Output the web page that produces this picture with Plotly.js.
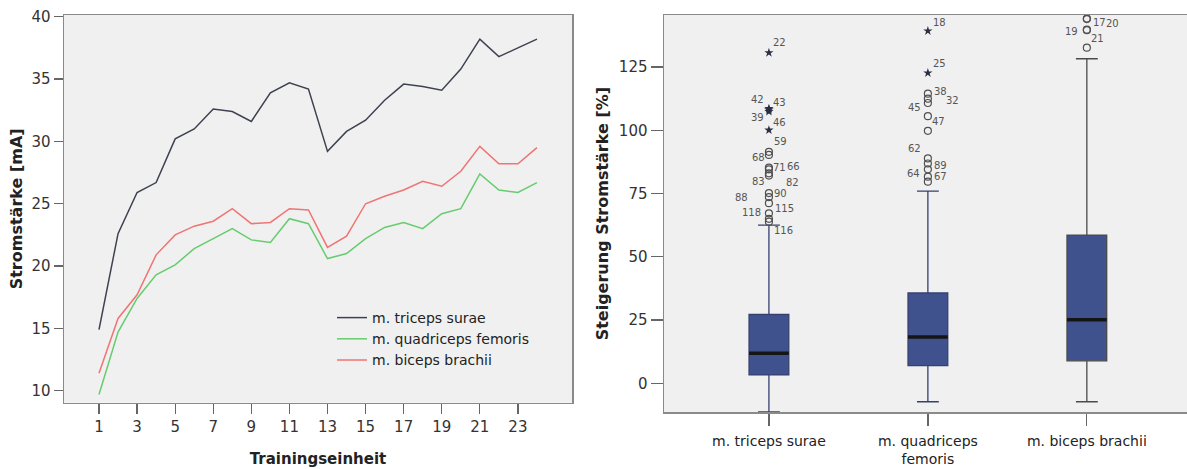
<!DOCTYPE html>
<html>
<head>
<meta charset="utf-8">
<script src="https://cdn.plot.ly/plotly-3.0.1.min.js"></script>
<style>
html,body{margin:0;padding:0;background:#fff;}
#chart{width:1187px;height:469px;}
</style>
</head>
<body>
<div id="chart"></div>
<script>
// ---------- Left chart data ----------
const sessions = [1,2,3,4,5,6,7,8,9,10,11,12,13,14,15,16,17,18,19,20,21,22,23,24];
const sessionTicks = [1,3,5,7,9,11,13,15,17,19,21,23];
const tricepsSurae = [14.9,22.6,25.9,26.7,30.2,31.0,32.6,32.4,31.6,33.9,34.7,34.2,29.2,30.8,31.7,33.3,34.6,34.4,34.1,35.8,38.2,36.8,37.5,38.2];
const quadricepsFemoris = [9.7,14.7,17.4,19.3,20.1,21.4,22.2,23.0,22.1,21.9,23.8,23.4,20.6,21.0,22.2,23.1,23.5,23.0,24.2,24.6,27.4,26.1,25.9,26.7];
const bicepsBrachii = [11.4,15.8,17.7,20.9,22.5,23.2,23.6,24.6,23.4,23.5,24.6,24.5,21.5,22.4,25.0,25.6,26.1,26.8,26.4,27.6,29.6,28.2,28.2,29.5];
const seriesNames = ['m. triceps surae','m. quadriceps femoris','m. biceps brachii'];

// ---------- Right chart data ----------
const boxLabels = ['m. triceps surae','m. quadriceps<br>femoris','m. biceps brachii'];
const boxQ1 = [3.3, 7.0, 8.9];
const boxMedian = [11.9, 18.3, 25.1];
const boxQ3 = [27.2, 35.7, 58.6];
const boxLowerWhisker = [-11.3, -7.3, -7.3];
const boxUpperWhisker = [62.5, 76.0, 128.3];

const tricepsOutlierValues = [91.5, 90.3, 85.3, 84.6, 83.0, 82.1, 75.2, 73.6, 71.2, 67.2, 65.0, 63.9];
const tricepsOutlierIds = ['59','68','71','66','83','82','90','88','115','118','116',''];
const tricepsExtremeValues = [130.7, 108.6, 108.1, 107.4, 100.1];
const tricepsExtremeIds = ['22','42','43','39','46'];

const quadOutlierValues = [114.5, 112.5, 110.8, 105.6, 99.8, 88.9, 86.9, 84.6, 81.7, 79.7];
const quadOutlierIds = ['38','32','45','47','','62','89','64','67',''];
const quadExtremeValues = [139.3, 122.7];
const quadExtremeIds = ['18','25'];

const bicepsOutlierValues = [144.2, 144.0, 139.8, 139.6, 132.7];
const bicepsOutlierIds = ['17','20','19','21',''];
const bicepsExtremeValues = [];
const bicepsExtremeIds = [];

// ---------- Styles (label pixel offsets: [right, down]) ----------
const labelOffsets = {
  '22':[11,-10],'42':[-11,-9],'43':[11,-7],'39':[-11,6],'46':[11,-8],
  '59':[12,-10],'68':[-10,3],'71':[11,0],'66':[25,-3],'83':[-10,8],'82':[24,7],
  '90':[12,0],'88':[-27,0],'115':[16,5],'118':[-17,-1],'116':[15,12],
  '18':[12,-8],'25':[12,-9],'38':[13,-2],'32':[25,2],'45':[-13,4],'47':[11,5],
  '62':[-13,-10],'89':[13,2],'64':[-14,4],'67':[13,0],
  '17':[13,4],'20':[26,4],'19':[-15,2],'21':[11,8]
};
const lineColors = ['#3e4250','#66cc6e','#f07474'];
const FONT = 'DejaVu Sans, Liberation Sans, Arial, sans-serif';

const traces = [];
[tricepsSurae, quadricepsFemoris, bicepsBrachii].forEach((vals, i) => {
  traces.push({
    type:'scatter', mode:'lines', x: sessions, y: vals, name: seriesNames[i],
    xaxis:'x', yaxis:'y', line:{color: lineColors[i], width:1.5}
  });
});

const boxLineColors = ['#34406f','#34406f','#4a4a4a'];
const BOXW = 0.25;
for (let i = 0; i < 3; i++) {
  traces.push({
    type:'box', x:[i], q1:[boxQ1[i]], median:[boxMedian[i]], q3:[boxQ3[i]],
    lowerfence:[boxLowerWhisker[i]], upperfence:[boxUpperWhisker[i]],
    boxpoints:false, width: BOXW, whiskerwidth:0.55,
    fillcolor:'#40528e', line:{color: boxLineColors[i], width:1.3},
    xaxis:'x2', yaxis:'y2', showlegend:false, hoverinfo:'skip'
  });
}

const groups = [
  {o: tricepsOutlierValues, oi: tricepsOutlierIds, e: tricepsExtremeValues, ei: tricepsExtremeIds},
  {o: quadOutlierValues, oi: quadOutlierIds, e: quadExtremeValues, ei: quadExtremeIds},
  {o: bicepsOutlierValues, oi: bicepsOutlierIds, e: bicepsExtremeValues, ei: bicepsExtremeIds}
];
const annotations = [];
groups.forEach((g, i) => {
  traces.push({
    type:'scatter', mode:'markers', x: g.o.map(() => i), y: g.o,
    xaxis:'x2', yaxis:'y2', showlegend:false, hoverinfo:'skip',
    marker:{symbol:'circle-open', size:7, color:'#505050', line:{width:1.2, color:'#505050'}}
  });
  if (g.e.length) {
    traces.push({
      type:'scatter', mode:'markers', x: g.e.map(() => i), y: g.e,
      xaxis:'x2', yaxis:'y2', showlegend:false, hoverinfo:'skip',
      marker:{symbol:'star', size:7, color:'#2a2f45', line:{width:0}}
    });
  }
  const addLabels = (vals, ids) => vals.forEach((v, k) => {
    const id = ids[k];
    if (!id) return;
    const off = labelOffsets[id] || [10,0];
    annotations.push({
      xref:'x2', yref:'y2', x:i, y:v, text:id, showarrow:false,
      xshift: off[0], yshift: -off[1],
      font:{family:FONT, size:10, color:'#555'}
    });
  });
  addLabels(g.o, g.oi);
  addLabels(g.e, g.ei);
});

const shapes = boxMedian.map((m, i) => ({
  type:'line', xref:'x2', yref:'y2', x0:i-BOXW/2, x1:i+BOXW/2, y0:m, y1:m,
  line:{color:'#151515', width:3.5}
}));

const axisCommon = {
  showgrid:false, zeroline:false, showline:true, mirror:true,
  linecolor:'#8a8a8a', linewidth:1.5, ticks:'outside', tickcolor:'#666', tickwidth:1.3,
  tickfont:{family:FONT, size:15, color:'#333'}
};
const titleFont = {family:FONT, size:16, color:'#222'};

const layout = {
  width:1187, height:469, margin:{l:0,r:0,t:0,b:0},
  paper_bgcolor:'#ffffff', plot_bgcolor:'#f0f0f0',
  font:{family:FONT, color:'#333'},
  showlegend:true,
  legend:{x:332/1187, y:1-302/469, xanchor:'left', yanchor:'top',
    bgcolor:'rgba(0,0,0,0)', font:{family:FONT, size:14, color:'#222'},
    tracegroupgap:0, itemwidth:30},
  xaxis: Object.assign({}, axisCommon, {
    domain:[64/1187, 572/1187], range:[-0.838, 25.84], anchor:'y',
    tickvals: sessionTicks, ticklen:10,
    title:{text:'<b>Trainingseinheit</b>', font:{family:FONT, size:15, color:'#222'}, standoff:18}
  }),
  yaxis: Object.assign({}, axisCommon, {
    domain:[1-402.7/469, 1-15/469], range:[9.04, 40.14], anchor:'x',
    tickvals:[10,15,20,25,30,35,40], ticklen:9,
    title:{text:'<b>Stromstärke [mA]</b>', font:titleFont, standoff:5}
  }),
  xaxis2: Object.assign({}, axisCommon, {
    domain:[664/1187, 1], range:[-0.66, 2.63], anchor:'y2',
    tickvals:[0,1,2], ticktext: boxLabels, ticklen:12, ticklabelstandoff:3,
    tickfont:{family:FONT, size:14, color:'#222'}
  }),
  yaxis2: Object.assign({}, axisCommon, {
    domain:[1-412.3/469, 1-15/469], range:[-11.47, 145.6], anchor:'x2',
    tickvals:[0,25,50,75,100,125], ticklen:12,
    title:{text:'<b>Steigerung Stromstärke [%]</b>', font:titleFont, standoff:6}
  }),
  shapes: shapes,
  annotations: annotations
};

Plotly.newPlot('chart', traces, layout, {displayModeBar:false, staticPlot:true});
</script>
</body>
</html>
